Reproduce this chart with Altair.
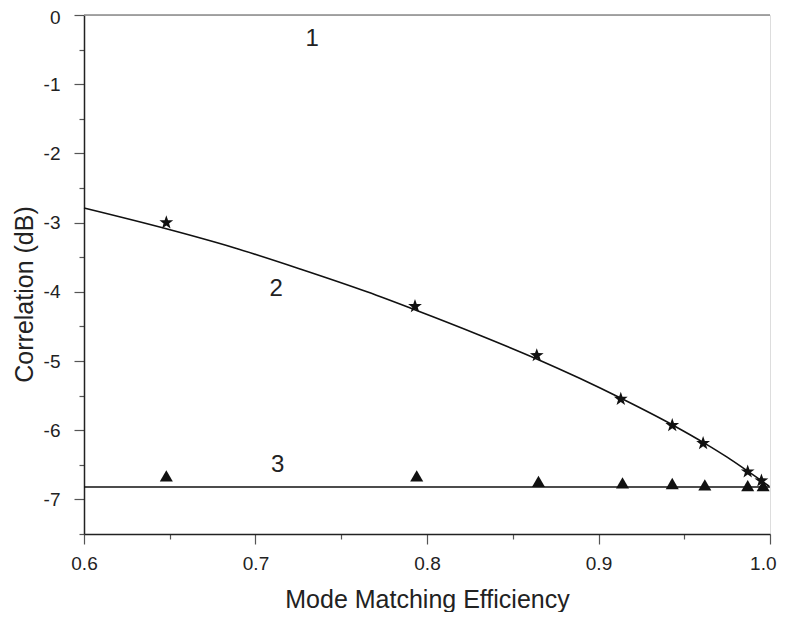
import math
import altair as alt
import pandas as pd

# Series 2 (stars) measured points
star_x = [0.648, 0.793, 0.864, 0.913, 0.943, 0.961, 0.987, 0.995]
star_y = [-3.00, -4.21, -4.92, -5.55, -5.93, -6.19, -6.60, -6.73]
# Series 3 (triangles) measured points
tri_x = [0.648, 0.794, 0.865, 0.914, 0.943, 0.962, 0.987, 0.996]
tri_y = [-6.66, -6.66, -6.74, -6.76, -6.77, -6.79, -6.80, -6.80]
# Theory curve 2
curve_x = [0.600, 0.648, 0.687, 0.726, 0.765, 0.794, 0.830, 0.864, 0.889, 0.914, 0.944, 0.962, 0.975, 0.986, 0.995, 0.9995]
curve_y = [-2.79, -3.09, -3.36, -3.67, -4.00, -4.27, -4.62, -4.97, -5.25, -5.55, -5.935, -6.19, -6.39, -6.575, -6.73, -6.81]
# Line 3 (constant level)
line3_x = [0.6, 1.0]
line3_y = [-6.82, -6.82]
# Curve labels
lab_text = ["1", "2", "3"]
lab_x = [0.733, 0.712, 0.713]
lab_y = [-0.34, -3.96, -6.50]
# Top frame
top_x = [0.6, 1.0]
top_y = [0.0, 0.0]

x_ticks = [0.6, 0.65, 0.7, 0.75, 0.8, 0.85, 0.9, 0.95, 1.0]
y_ticks = [0, -0.5, -1, -1.5, -2, -2.5, -3, -3.5, -4, -4.5, -5, -5.5, -6, -6.5, -7, -7.5]

# five-pointed star symbol outline (unit size)
pts = []
for k in range(10):
    r = 1.0 if k % 2 == 0 else 0.4
    a = -math.pi / 2 + k * math.pi / 5
    pts.append(f"{r * math.cos(a):.4f},{r * math.sin(a):.4f}")
STAR = "M" + "L".join(pts) + "Z"

FONT = "Liberation Sans"
xs = alt.Scale(domain=[0.6, 1.0], nice=False, zero=False)
ys = alt.Scale(domain=[-7.5, 0], nice=False, zero=False)

x_major_test = "abs(datum.value*10 - round(datum.value*10)) < 0.001"
y_major_test = "abs(datum.value - round(datum.value)) < 0.001"
x_last_test = "datum.value > 0.999"
y_top_test = "datum.value > -0.001"

x_axis = alt.Axis(values=x_ticks,
                  labelExpr=f"{x_major_test} ? format(datum.value, '.1f') : ''",
                  tickSize={"condition": {"test": x_major_test, "value": 10}, "value": 5},
                  labelAlign={"condition": {"test": x_last_test, "value": "right"}, "value": "center"},
                  labelOffset={"condition": {"test": x_last_test, "value": 6}, "value": 0},
                  tickColor="#555", tickWidth=1.2,
                  domainColor="#222", domainWidth=1.5, labelFont=FONT, labelFontSize=19,
                  labelColor="#222", labelPadding=10, grid=False, orient="bottom",
                  title="Mode Matching Efficiency", titleFont=FONT, titleFontSize=25,
                  titleFontWeight="normal", titleColor="#222", titleBaseline="alphabetic",
                  titleX=343, titleY=73, titleAlign="center", labelFlush=False)
y_axis = alt.Axis(values=y_ticks,
                  labelExpr=f"{y_major_test} ? ('' + datum.value) : ''",
                  tickSize={"condition": {"test": y_major_test, "value": 10}, "value": 5},
                  labelOffset={"condition": {"test": y_top_test, "value": 2}, "value": 0},
                  tickColor="#555", tickWidth=1.2,
                  domainColor="#222", domainWidth=1.5, labelFont=FONT, labelFontSize=19,
                  labelColor="#222", labelPadding=14, grid=False, orient="left",
                  title="Correlation (dB)", titleFont=FONT, titleFontSize=25,
                  titleFontWeight="normal", titleColor="#222", titleAngle=-90,
                  titleBaseline="alphabetic", titleX=-52, titleY=279, titleAlign="center",
                  labelFlush=False)

X = alt.X("x:Q", scale=xs, axis=x_axis)
Y = alt.Y("y:Q", scale=ys, axis=y_axis)

curve = alt.Chart(pd.DataFrame({"x": curve_x, "y": curve_y})).mark_line(
    color="#111", strokeWidth=1.6, interpolate="monotone").encode(x=X, y=Y)

top = alt.Chart(pd.DataFrame({"x": top_x, "y": top_y})).mark_line(
    color="#888", strokeWidth=1.5).encode(x=X, y=Y)

line3 = alt.Chart(pd.DataFrame({"x": line3_x, "y": line3_y})).mark_line(
    color="#111", strokeWidth=1.5).encode(x=X, y=Y)

tris = alt.Chart(pd.DataFrame({"x": tri_x, "y": tri_y})).mark_point(
    shape="triangle-up", filled=True, color="#111", size=170, opacity=1).encode(x=X, y=Y)

stars = alt.Chart(pd.DataFrame({"x": star_x, "y": star_y})).mark_point(
    shape=STAR, filled=True, color="#111", size=210, opacity=1).encode(x=X, y=Y)

labels = alt.Chart(pd.DataFrame({"t": lab_text, "x": lab_x, "y": lab_y})).mark_text(
    font=FONT, fontSize=24, color="#222", baseline="middle", align="center").encode(
    x=X, y=Y, text="t:N")

chart = alt.layer(curve, top, line3, tris, stars, labels).properties(
    width=686, height=519,
    autosize=alt.AutoSizeParams(type="none"),
    padding={"left": 76, "top": 7, "right": 7, "bottom": 78},
).configure_view(stroke=None).configure(background="white")

chart.save("out.html", embed_options={"renderer": "svg", "actions": False})
